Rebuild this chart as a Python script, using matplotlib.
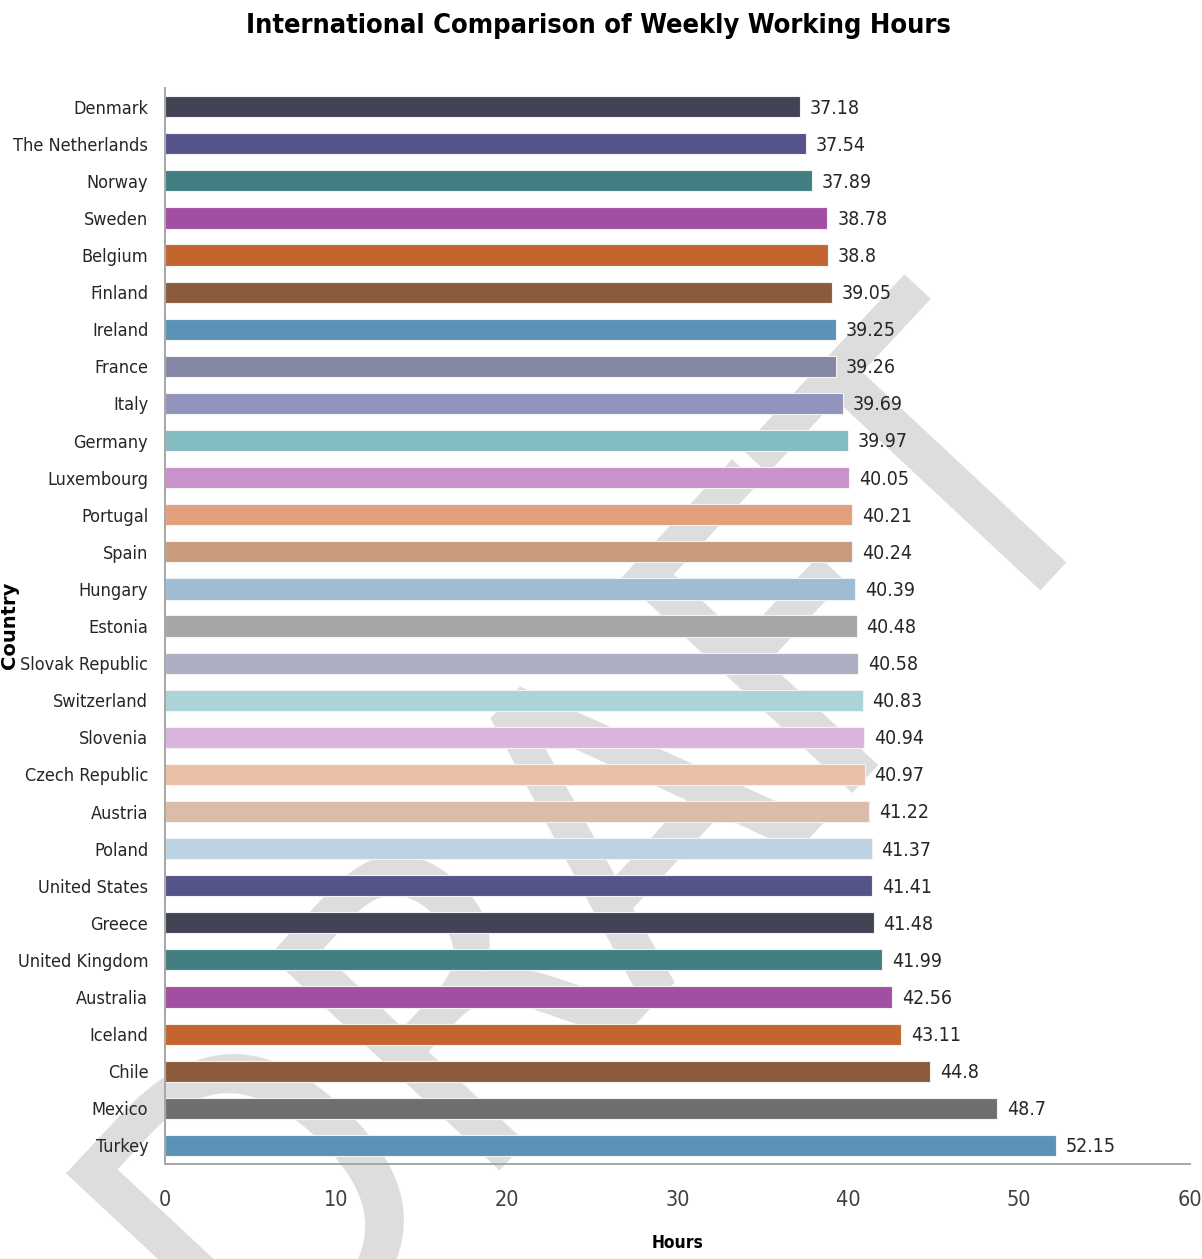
import matplotlib
matplotlib.use("Agg")
import matplotlib.pyplot as plt
from matplotlib import font_manager as fm

# Average weekly working hours by country
countries = [
    "Denmark", "The Netherlands", "Norway", "Sweden", "Belgium", "Finland",
    "Ireland", "France", "Italy", "Germany", "Luxembourg", "Portugal", "Spain",
    "Hungary", "Estonia", "Slovak Republic", "Switzerland", "Slovenia",
    "Czech Republic", "Austria", "Poland", "United States", "Greece",
    "United Kingdom", "Australia", "Iceland", "Chile", "Mexico", "Turkey",
]
hours = [
    37.18, 37.54, 37.89, 38.78, 38.8, 39.05, 39.25, 39.26, 39.69, 39.97,
    40.05, 40.21, 40.24, 40.39, 40.48, 40.58, 40.83, 40.94, 40.97, 41.22,
    41.37, 41.41, 41.48, 41.99, 42.56, 43.11, 44.8, 48.7, 52.15,
]
bar_colors = [
    "#424456", "#545489", "#437e82", "#a24ea2", "#c4652f", "#8b5c3c",
    "#5b92b7", "#8587a3", "#9294be", "#83bdc1", "#c992cb", "#e3a07d",
    "#c89b7d", "#9ebdd4", "#a6a6a6", "#adaec2", "#acd3d6", "#dbb4dd",
    "#ecc0a7", "#dabca8", "#bdd3e2", "#545489", "#424456", "#437e82",
    "#a24ea2", "#c4652f", "#8b5c3c", "#6f6f6f", "#5b92b7",
]
x_ticks = [0, 10, 20, 30, 40, 50, 60]


def narrow_font():
    """Return (family, stretch) of the narrowest condensed sans face available."""
    options = [
        ("Noto Sans", "extra-condensed", "extracond"),
        ("Noto Sans ExtraCondensed", "normal", "extracond"),
        ("Noto Sans", "condensed", "cond"),
        ("Noto Sans Condensed", "normal", "cond"),
        ("DejaVu Sans", "condensed", "cond"),
        ("DejaVu Sans Condensed", "normal", "cond"),
        ("Liberation Sans Narrow", "normal", "narrow"),
    ]
    for family, stretch, key in options:
        props = fm.FontProperties(family=family, stretch=stretch)
        try:
            path = fm.findfont(props, fallback_to_default=False)
        except ValueError:
            continue
        if key in path.lower().replace("-", "").replace("_", ""):
            return family, stretch
    return "DejaVu Sans", "normal"


FAMILY, STRETCH = narrow_font()
plt.rcParams["font.family"] = [FAMILY, "DejaVu Sans"]
plt.rcParams["font.stretch"] = STRETCH

fig = plt.figure(figsize=(12.02, 12.59), dpi=100)
ax = fig.add_axes([0.1373, 0.0755, 0.8527, 0.8545])
ax.patch.set_alpha(0)

# Faint watermark sitting behind the bars
fig.text(0.2155, -0.1025, "DRAFT", rotation=47, rotation_mode="anchor",
         ha="left", va="baseline", fontsize=310, color="#dddddd", zorder=-5)

pos = list(range(len(countries)))
ax.barh(pos, hours, height=0.57, color=bar_colors,
        edgecolor="#f2f2f2", linewidth=0.8, zorder=2)

for p, v in zip(pos, hours):
    ax.annotate(f"{v:g}", xy=(v, p), xytext=(7, -1), textcoords="offset points",
                ha="left", va="center", fontsize=14, color="#262626")

ax.set_ylim(len(countries) - 0.5, -0.5)
ax.set_xlim(0, 60)
ax.set_yticks(pos)
ax.set_yticklabels(countries, fontsize=13, color="#262626")
ax.set_xticks(x_ticks)
ax.set_xticklabels([str(t) for t in x_ticks], fontsize=15.5, color="#404040")
ax.tick_params(axis="both", length=0)
ax.tick_params(axis="y", pad=12)
ax.tick_params(axis="x", pad=19)

for side in ("top", "right"):
    ax.spines[side].set_visible(False)
for side in ("left", "bottom"):
    ax.spines[side].set_color("#a6a6a6")
    ax.spines[side].set_linewidth(1.4)

ax.set_xlabel("Hours", fontsize=12.5, fontweight="bold", labelpad=17)
fig.text(0.0078, 0.503, "Country", rotation=90, ha="center", va="center",
         fontsize=14, fontweight="bold", family=["DejaVu Sans"],
         stretch="normal")

fig.text(0.4975, 0.979, "International Comparison of Weekly Working Hours",
         ha="center", va="center", fontsize=19.5, fontweight="bold")

fig.savefig("out.png", dpi=100, facecolor="white")
